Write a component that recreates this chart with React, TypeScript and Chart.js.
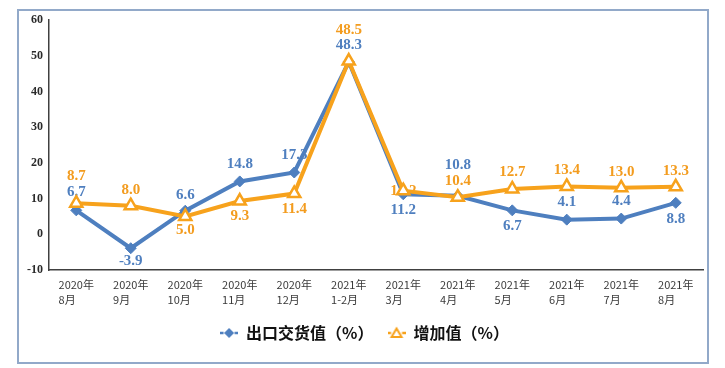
import { useEffect, useRef } from "react";
import { Chart, registerables } from "chart.js";

Chart.register(...registerables);

// ---- Data ----
const categories: string[][] = [
  ["2020年", "8月"],
  ["2020年", "9月"],
  ["2020年", "10月"],
  ["2020年", "11月"],
  ["2020年", "12月"],
  ["2021年", "1-2月"],
  ["2021年", "3月"],
  ["2021年", "4月"],
  ["2021年", "5月"],
  ["2021年", "6月"],
  ["2021年", "7月"],
  ["2021年", "8月"],
];
const exportValues = [6.7, -3.9, 6.6, 14.8, 17.3, 48.3, 11.2, 10.8, 6.7, 4.1, 4.4, 8.8];
const addedValues = [8.7, 8.0, 5.0, 9.3, 11.4, 48.5, 12.2, 10.4, 12.7, 13.4, 13.0, 13.3];
const seriesNames = ["出口交货值（%）", "增加值（%）"];
const yMin = -10;
const yMax = 60;
const yStep = 10;

// ---- Styles ----
const BLUE = "#4e7fbf";
const ORANGE = "#f7a21c";
const BLUE_LABEL = "#4f7fbf";
const ORANGE_LABEL = "#f39c1f";
const labelColors = [BLUE_LABEL, ORANGE_LABEL];
// vertical offset of each value label from its point (px)
const labelOffsets = [
  [-18, 13, -16, -17, -17.5, -17, 15.5, -31, 16, -18, -17, 16],
  [-27, -16, 13.5, 15, 16, -31, 0, -16, -16.5, -16, -16, -16],
];

function makeLegendIcon(kind: "diamond" | "triangle", color: string) {
  const c = document.createElement("canvas");
  c.width = 18;
  c.height = 14;
  const g = c.getContext("2d")!;
  g.strokeStyle = color;
  g.lineWidth = 2.5;
  g.beginPath();
  g.moveTo(0, 7);
  g.lineTo(3.5, 7);
  g.moveTo(14.5, 7);
  g.lineTo(18, 7);
  g.stroke();
  if (kind === "diamond") {
    g.fillStyle = color;
    g.beginPath();
    g.moveTo(9, 2);
    g.lineTo(14, 7);
    g.lineTo(9, 12);
    g.lineTo(4, 7);
    g.closePath();
    g.fill();
  } else {
    g.fillStyle = "#ffffff";
    g.lineWidth = 2;
    g.beginPath();
    g.moveTo(9, 2.5);
    g.lineTo(14, 11);
    g.lineTo(4, 11);
    g.closePath();
    g.fill();
    g.stroke();
  }
  return c;
}

const labelPlugin = {
  id: "valueLabels",
  beforeDatasetsDraw(chart: any) {
    const ctx = chart.ctx;
    ctx.save();
    ctx.font = 'bold 15px "Liberation Serif"';
    ctx.textAlign = "center";
    ctx.textBaseline = "middle";
    chart.data.datasets.forEach((ds: any, di: number) => {
      const meta = chart.getDatasetMeta(di);
      meta.data.forEach((pt: any, i: number) => {
        ctx.fillStyle = labelColors[di];
        ctx.fillText(Number(ds.data[i]).toFixed(1), pt.x, pt.y + labelOffsets[di][i]);
      });
    });
    ctx.restore();
  },
  afterDraw(chart: any) {
    const ctx = chart.ctx;
    const xs = chart.scales.x;
    ctx.save();
    ctx.font = '11px "Noto Sans CJK SC"';
    ctx.fillStyle = "#3a3a3a";
    ctx.textAlign = "left";
    ctx.textBaseline = "middle";
    const lbls = chart.data.labels as string[][];
    lbls.forEach((lines, i) => {
      const cx = xs.getPixelForTick(i);
      const w = ctx.measureText(lines[0]).width;
      const x0 = cx - w / 2;
      lines.forEach((ln, k) => {
        ctx.fillText(ln, x0, xs.top + 15 + k * 15);
      });
    });
    ctx.restore();
  },
};

export default function App() {
  const ref = useRef<HTMLCanvasElement | null>(null);

  useEffect(() => {
    if (!ref.current) return;
    const icons = [makeLegendIcon("diamond", BLUE), makeLegendIcon("triangle", ORANGE)];
    const chart = new Chart(ref.current, {
      type: "line",
      data: {
        labels: categories as any,
        datasets: [
          {
            label: seriesNames[0],
            data: exportValues,
            borderColor: BLUE,
            backgroundColor: BLUE,
            borderWidth: 4,
            pointStyle: "rectRot",
            pointRadius: 5.5,
            pointBackgroundColor: BLUE,
            pointBorderColor: BLUE,
            pointBorderWidth: 1,
            tension: 0,
            order: 1,
          },
          {
            label: seriesNames[1],
            data: addedValues,
            borderColor: ORANGE,
            backgroundColor: "#ffffff",
            borderWidth: 4,
            pointStyle: "triangle",
            pointRadius: 7,
            pointBackgroundColor: "#ffffff",
            pointBorderColor: ORANGE,
            pointBorderWidth: 2.5,
            tension: 0,
            order: 0,
          },
        ],
      },
      options: {
        responsive: false,
        animation: false,
        devicePixelRatio: 1,
        layout: { padding: { left: 26, right: 22, top: 20, bottom: 17 } },
        scales: {
          x: {
            offset: true,
            grid: { display: false },
            border: { display: true, color: "#404040", width: 1.5 },
            ticks: { display: false },
            afterFit: (s: any) => {
              s.height = 41;
            },
          },
          y: {
            min: yMin,
            max: yMax,
            grid: { display: false, drawTicks: false },
            border: { display: true, color: "#404040", width: 1.5 },
            ticks: {
              stepSize: yStep,
              padding: 6,
              color: "#2a2a2a",
              font: { family: '"Liberation Serif"', size: 12, weight: "bold" },
            },
            afterFit: (s: any) => {
              s.width = 23;
            },
          },
        },
        plugins: {
          tooltip: { enabled: false },
          legend: {
            display: true,
            position: "bottom",
            labels: {
              usePointStyle: true,
              pointStyleWidth: 18,
              padding: 14,
              color: "#111111",
              font: { family: '"Noto Sans CJK SC"', size: 16, weight: "bold" },
              generateLabels: () =>
                seriesNames.map((name, i) => ({
                  text: name,
                  pointStyle: icons[i] as any,
                  fillStyle: "transparent",
                  strokeStyle: "transparent",
                  lineWidth: 0,
                  hidden: false,
                  datasetIndex: i,
                  fontColor: "#111111",
                })),
            },
          },
        },
      },
      plugins: [labelPlugin],
    });
    return () => chart.destroy();
  }, []);

  return (
    <div style={{ position: "fixed", left: 0, top: 0, width: 725, height: 368, background: "#ffffff" }}>
      <div
        style={{
          position: "absolute",
          left: 17,
          top: 9,
          width: 692,
          height: 355,
          border: "2px solid #92a9c9",
          boxSizing: "border-box",
        }}
      />
      <canvas ref={ref} width={725} height={368} style={{ position: "absolute", left: 0, top: 0 }} />
    </div>
  );
}
